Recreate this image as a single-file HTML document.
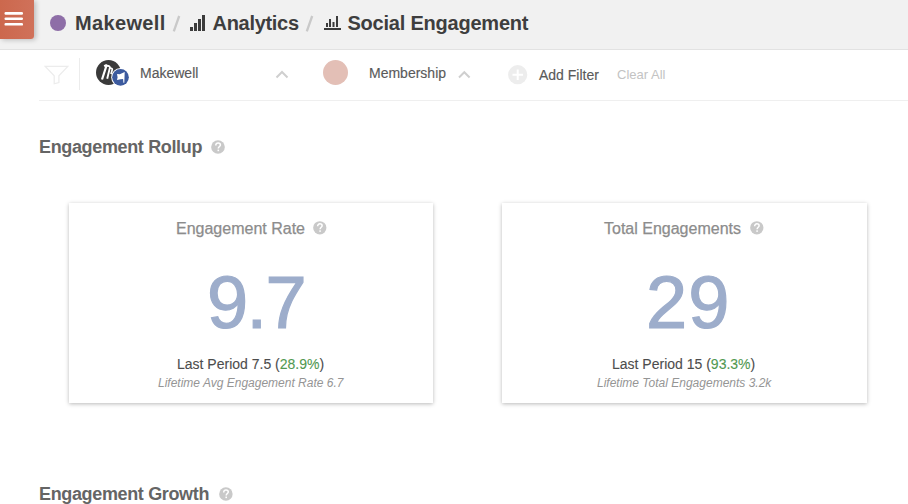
<!DOCTYPE html>
<html><head><meta charset="utf-8">
<style>
html,body{margin:0;padding:0;background:#fff;width:908px;height:504px;overflow:hidden;position:relative;font-family:"Liberation Sans",sans-serif;}
.abs{position:absolute;white-space:nowrap;}
svg{overflow:visible;}
#hdr{position:absolute;left:0;top:0;width:908px;height:49px;background:#f1f1f1;border-bottom:1px solid #e2e2e2;}
#burger{position:absolute;left:0;top:0;width:34px;height:38.5px;background:linear-gradient(90deg,#cc684d,#d0715a);border-bottom-right-radius:3px;box-shadow:2px 1px 5px rgba(0,0,0,.22);}
#burger i{position:absolute;left:5px;width:18px;height:2.5px;background:#fff;border-radius:1.5px;}
.bc{font-weight:bold;font-size:20px;line-height:20px;color:#3e3e3e;}
.slash{font-size:20px;line-height:20px;color:#c6c6c6;}
.ftxt{font-size:14px;line-height:14px;color:#5a5a5a;-webkit-text-stroke:0.15px #5a5a5a;}
.title{font-weight:bold;font-size:18px;line-height:18px;color:#656565;letter-spacing:-0.35px;}
.q{position:absolute;border-radius:50%;background:#c9c9c9;color:#fff;font-weight:bold;text-align:center;}
.card{position:absolute;background:#fff;box-shadow:0 1px 4px rgba(0,0,0,.28);}
.ctitle{font-size:16px;line-height:16px;color:#8c8c8c;-webkit-text-stroke:0.25px #8c8c8c;}
.big{font-size:74px;line-height:74px;color:#9dadcb;-webkit-text-stroke:1.2px #9dadcb;}
.lp{font-size:14px;line-height:14px;color:#4d4d4d;-webkit-text-stroke:0.1px #4d4d4d;}
.lp b{font-weight:normal;color:#519951;-webkit-text-stroke:0.1px #519951;}
.lt{font-size:12px;line-height:12px;color:#959595;font-style:italic;}
</style></head>
<body>
<div id="hdr"></div>
<div id="burger"><svg width="34" height="38" style="position:absolute;left:0;top:0"><g fill="#fff"><rect x="4.5" y="12.1" width="18.5" height="2.6" rx="1.2"/><rect x="4.5" y="17.4" width="18.5" height="2.5" rx="1.2"/><rect x="4.5" y="23" width="18.5" height="2.6" rx="1.2"/></g></svg></div>
<div class="abs" style="left:50px;top:15px;width:16px;height:16px;border-radius:50%;background:#8e6ea7;"></div>
<div class="abs bc" style="left:75px;top:13px;letter-spacing:0.35px;">Makewell</div>
<svg class="abs" style="left:170px;top:14px" width="12" height="19"><path d="M9.2 2 L3.8 17.3" stroke="#c9c9c9" stroke-width="2.3"/></svg>
<svg class="abs" style="left:190px;top:15px" width="16" height="16" viewBox="0 0 16 16"><g fill="#3c3c3c"><rect x="0" y="12" width="3" height="4"/><rect x="4" y="8" width="3" height="8"/><rect x="8" y="4" width="3" height="12"/><rect x="12" y="0" width="3" height="16"/></g></svg>
<div class="abs bc" style="left:212.5px;top:13px;letter-spacing:-0.3px;">Analytics</div>
<svg class="abs" style="left:303.3px;top:14px" width="12" height="19"><path d="M9.2 2 L3.8 17.3" stroke="#c9c9c9" stroke-width="2.3"/></svg>
<svg class="abs" style="left:324px;top:16px" width="17" height="14" viewBox="0 0 17 14"><g fill="#3c3c3c"><rect x="0" y="12" width="17" height="2"/><rect x="2" y="7" width="2" height="4"/><rect x="5" y="3" width="2" height="8"/><rect x="8.5" y="6" width="2" height="5"/><rect x="12" y="0" width="2" height="11"/></g></svg>
<div class="abs bc" style="left:347.5px;top:13px;letter-spacing:-0.22px;">Social Engagement</div>

<!-- filter bar -->
<svg class="abs" style="left:44px;top:65px" width="25" height="20" viewBox="0 0 25 20"><path d="M1.2 1.4 H23.8 L14.9 10.8 V17.6 L10.2 18.8 V10.8 Z" fill="none" stroke="#ececec" stroke-width="1.25"/></svg>
<div class="abs" style="left:79px;top:58px;width:1px;height:32px;background:#ececec;"></div>
<svg class="abs" style="left:95px;top:59px" width="36" height="29" viewBox="0 0 36 29">
<circle cx="13.5" cy="13.5" r="12.5" fill="#3a3a3a"/>
<g fill="none" stroke="#fff" stroke-width="2.1" stroke-linejoin="bevel">
<path d="M9.2 7.3 L11.7 6 L7 20.5" stroke-width="2.2"/>
<path d="M12 6.8 Q15 6.9 14.9 8.6 L12.2 19.8" stroke-width="1.9"/>
<path d="M15 9 Q17.4 9.2 17.3 10.6 L16 15" stroke-width="1.7"/>
</g>
<circle cx="25.5" cy="18.35" r="9.3" fill="#fff"/>
<circle cx="25.5" cy="18.35" r="8.35" fill="#3c5a9e"/>
<path d="M22 15.1 L24.8 15.3 L29.7 13 L29.3 23.7 L28.4 23.7 L28.1 19.9 L25.5 20.3 L22 21.1 L22.6 18.3 Z" fill="#fff"/>
</svg>
<div class="abs ftxt" style="left:140px;top:66.3px;">Makewell</div>
<svg class="abs" style="left:275px;top:70px" width="14" height="9" viewBox="0 0 14 9"><path d="M1.5 7.5 L7 2 L12.5 7.5" fill="none" stroke="#cfcfcf" stroke-width="2"/></svg>
<div class="abs" style="left:323px;top:60px;width:25px;height:25px;border-radius:50%;background:#e3bfb6;"></div>
<div class="abs ftxt" style="left:369px;top:66.3px;">Membership</div>
<svg class="abs" style="left:458px;top:70px" width="13" height="9" viewBox="0 0 13 9"><path d="M1 7.5 L6.3 2.2 L11.6 7.5" fill="none" stroke="#cfcfcf" stroke-width="2"/></svg>
<svg class="abs" style="left:508px;top:64.5px" width="20" height="20" viewBox="0 0 20 20"><circle cx="9.7" cy="9.7" r="9.6" fill="#ededed"/><path d="M9.7 4.5 V15 M4.5 9.7 H15" stroke="#fff" stroke-width="2"/></svg>
<div class="abs ftxt" style="left:539px;top:68px;">Add Filter</div>
<div class="abs" style="left:617px;top:67.5px;font-size:13px;line-height:13px;color:#c3c3c3;">Clear All</div>
<div class="abs" style="left:39px;top:100px;width:869px;height:1px;background:#efefef;"></div>

<!-- Section title -->
<div class="abs title" style="left:39px;top:138px;">Engagement Rollup</div>
<svg class="abs" style="left:211.3px;top:140.3px" width="14" height="14" viewBox="0 0 14 14"><circle cx="7" cy="7" r="6.85" fill="#c9c9c9"/><path d="M4.8 5.4 C4.8 3.7 5.8 2.9 7.1 2.9 C8.5 2.9 9.4 3.7 9.4 4.9 C9.4 6.4 7.3 6.6 7.3 8.5" fill="none" stroke="#fff" stroke-width="1.55"/><rect x="6.5" y="9.6" width="1.6" height="1.6" fill="#fff"/></svg>

<div class="card" style="left:69px;top:203px;width:364px;height:200px;"></div>
<div class="abs ctitle" style="left:176px;top:221px;">Engagement Rate</div>
<svg class="abs" style="left:312.6px;top:220.9px" width="13.6" height="13.6" viewBox="0 0 14 14"><circle cx="7" cy="7" r="6.85" fill="#c9c9c9"/><path d="M4.8 5.4 C4.8 3.7 5.8 2.9 7.1 2.9 C8.5 2.9 9.4 3.7 9.4 4.9 C9.4 6.4 7.3 6.6 7.3 8.5" fill="none" stroke="#fff" stroke-width="1.55"/><rect x="6.5" y="9.6" width="1.6" height="1.6" fill="#fff"/></svg>
<div class="abs big" style="left:207px;top:265.5px;letter-spacing:-1.6px;">9.7</div>
<div class="abs lp" style="left:177px;top:356.5px;">Last Period 7.5 (<b>28.9%</b>)</div>
<div class="abs lt" style="left:158px;top:376.5px;">Lifetime Avg Engagement Rate 6.7</div>

<div class="card" style="left:502px;top:203px;width:365px;height:200px;"></div>
<div class="abs ctitle" style="left:604px;top:221px;">Total Engagements</div>
<svg class="abs" style="left:750px;top:220.9px" width="13.6" height="13.6" viewBox="0 0 14 14"><circle cx="7" cy="7" r="6.85" fill="#c9c9c9"/><path d="M4.8 5.4 C4.8 3.7 5.8 2.9 7.1 2.9 C8.5 2.9 9.4 3.7 9.4 4.9 C9.4 6.4 7.3 6.6 7.3 8.5" fill="none" stroke="#fff" stroke-width="1.55"/><rect x="6.5" y="9.6" width="1.6" height="1.6" fill="#fff"/></svg>
<div class="abs big" style="left:646px;top:265.5px;letter-spacing:1px;">29</div>
<div class="abs lp" style="left:612px;top:356.5px;">Last Period 15 (<b>93.3%</b>)</div>
<div class="abs lt" style="left:597px;top:376.5px;">Lifetime Total Engagements 3.2k</div>

<div class="abs title" style="left:39px;top:485px;">Engagement Growth</div>
<svg class="abs" style="left:218.6px;top:487px" width="13.8" height="14" viewBox="0 0 14 14"><circle cx="7" cy="7" r="6.85" fill="#c9c9c9"/><path d="M4.8 5.4 C4.8 3.7 5.8 2.9 7.1 2.9 C8.5 2.9 9.4 3.7 9.4 4.9 C9.4 6.4 7.3 6.6 7.3 8.5" fill="none" stroke="#fff" stroke-width="1.55"/><rect x="6.5" y="9.6" width="1.6" height="1.6" fill="#fff"/></svg>
</body></html>
